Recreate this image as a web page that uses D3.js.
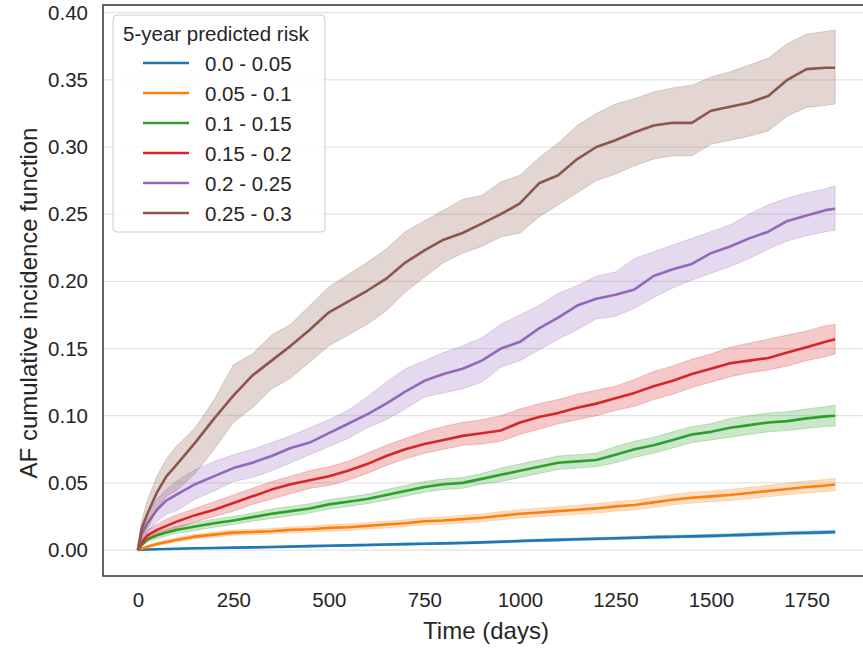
<!DOCTYPE html>
<html>
<head>
<meta charset="utf-8">
<script src="https://cdn.jsdelivr.net/npm/d3@7"></script>
<style>
  body { margin: 0; background: #fff; }
  svg { font-family: "Liberation Sans", Arial, sans-serif; }
</style>
</head>
<body>
<div id="chart"></div>
<script>
const days = [0, 10, 25, 50, 75, 100, 150, 200, 250, 300, 350, 400, 450, 500, 550, 600, 650, 700, 750, 800,
  850, 900, 950, 1000, 1050, 1100, 1150, 1200, 1250, 1300, 1350, 1400, 1450, 1500, 1550, 1600, 1650, 1700, 1750, 1800, 1825];

const groups = ["0.0 - 0.05", "0.05 - 0.1", "0.1 - 0.15", "0.15 - 0.2", "0.2 - 0.25", "0.25 - 0.3"];
const colors = ["#1f77b4", "#ff7f0e", "#2ca02c", "#d62728", "#9467bd", "#8c564b"];

const cif1 = [0,.0002,.0004,.0006,.0008,.001,.0013,.0015,.0018,.002, .0023,.0026,.0029,.0032,.0035,.0038,.0041,.0044,.0047,.005,
  .0053,.0057,.0062,.0067,.0072,.0076,.008,.0084,.0088,.0092, .0096,.0099,.0102,.0106,.011,.0115,.012,.0125,.0129,.0132,.0134];
const lo1 = [0,.0001,.0002,.0004,.0005,.0007,.0009,.0011,.0013,.0015, .0017,.002,.0022,.0025,.0028,.003,.0033,.0036,.0039,.0042,
  .0045,.0048,.0053,.0058,.0062,.0066,.007,.0074,.0078,.0082, .0085,.0088,.0091,.0095,.0098,.0103,.0108,.0113,.0116,.0119,.0121];
const hi1 = [0,.0003,.0006,.0008,.0011,.0013,.0017,.0019,.0023,.0025, .0029,.0032,.0036,.0039,.0042,.0046,.0049,.0052,.0055,.0058,
  .0061,.0066,.0071,.0076,.0082,.0086,.009,.0094,.0098,.0102, .0107,.011,.0113,.0117,.0122,.0127,.0132,.0137,.0142,.0145,.0147];

const cif2 = [0,.001,.0025,.0045,.006,.0075,.01,.0115,.013,.0135, .014,.015,.0155,.0165,.017,.018,.019,.02,.0215,.022,
  .023,.024,.0255,.027,.028,.029,.03,.031,.0325,.0335, .0355,.0375,.039,.04,.041,.0425,.044,.0455,.047,.048,.0488];
const lo2 = [0,.0005,.0015,.0033,.0047,.006,.0083,.0097,.0111,.0115, .012,.0129,.0133,.0142,.0146,.0156,.0165,.0175,.0189,.0193,
  .0202,.0211,.0225,.0239,.0248,.0257,.0266,.0275,.0289,.0298, .0317,.0336,.035,.036,.0369,.0383,.0398,.0412,.0426,.0435,.0442];
const hi2 = [0,.0015,.0035,.0057,.0073,.009,.0117,.0133,.0149,.0155, .016,.0171,.0177,.0188,.0194,.0204,.0215,.0225,.0241,.0247,
  .0258,.0269,.0285,.0301,.0312,.0323,.0334,.0345,.0361,.0372, .0393,.0414,.043,.044,.0451,.0467,.0482,.0498,.0514,.0525,.0534];

const cif3 = [0,.004,.008,.011,.013,.015,.0175,.02,.022,.0245, .027,.029,.031,.034,.036,.038,.041,.044,.047,.049,
  .05,.053,.056,.059,.062,.065,.066,.067,.071,.075, .078,.082,.086,.088,.091,.093,.095,.096,.098,.0995,.1];
const lo3 = [0,.0025,.006,.0085,.0105,.0125,.0145,.017,.019,.0215, .0235,.0255,.0275,.0305,.0325,.0345,.037,.04,.043,.045,
  .046,.049,.051,.054,.057,.06,.061,.062,.065,.069, .072,.076,.08,.082,.084,.086,.088,.089,.0906,.092,.0923];
const hi3 = [0,.0055,.01,.0135,.0155,.0175,.0205,.023,.025,.0275, .0305,.0325,.0345,.0375,.0395,.0415,.045,.048,.051,.053,
  .054,.057,.061,.064,.067,.07,.071,.072,.077,.081, .084,.088,.092,.094,.098,.1,.102,.103,.105,.1068,.1077];

const cif4 = [0,.006,.011,.015,.018,.021,.026,.03,.035,.04, .045,.049,.052,.055,.059,.064,.07,.075,.079,.082,
  .085,.087,.089,.095,.099,.102,.106,.109,.113,.117, .122,.126,.131,.135,.139,.141,.143,.147,.151,.155,.157];
const lo4 = [0,.003,.007,.011,.014,.016,.021,.025,.029,.034, .038,.042,.046,.048,.052,.057,.063,.068,.072,.075,
  .078,.079,.081,.086,.09,.094,.097,.1,.104,.107, .112,.116,.121,.125,.129,.132,.134,.137,.141,.144,.146];
const hi4 = [0,.009,.015,.019,.023,.026,.031,.036,.041,.046, .051,.055,.059,.062,.066,.072,.078,.083,.088,.092,
  .095,.097,.1,.105,.109,.112,.116,.119,.122,.127, .133,.137,.142,.146,.151,.154,.157,.16,.163,.167,.168];

const cif5 = [0,.012,.02,.03,.037,.041,.049,.055,.061,.065, .07,.076,.08,.087,.094,.101,.109,.118,.126,.131,
  .135,.141,.15,.155,.165,.173,.182,.187,.19,.194, .204,.209,.213,.221,.226,.232,.237,.245,.249,.253,.254];
const lo5 = [0,.007,.013,.021,.027,.029,.038,.044,.051,.054, .059,.065,.071,.077,.083,.091,.097,.105,.114,.117,
  .12,.125,.136,.141,.149,.157,.164,.172,.174,.18, .188,.195,.201,.206,.211,.217,.224,.23,.234,.237,.238];
const hi5 = [0,.018,.027,.038,.045,.051,.06,.066,.071,.075, .08,.085,.091,.097,.104,.114,.125,.135,.141,.147,
  .152,.158,.168,.175,.182,.191,.197,.204,.207,.217, .222,.227,.232,.237,.242,.25,.257,.262,.266,.269,.271];

const cif6 = [0,.016,.027,.043,.055,.063,.08,.098,.115,.13, .141,.152,.164,.177,.185,.193,.202,.214,.223,.231,
  .236,.243,.25,.258,.273,.279,.291,.3,.305,.311, .316,.318,.318,.327,.33,.333,.338,.35,.358,.359,.359];
const lo6 = [0,.01,.016,.03,.04,.044,.057,.075,.095,.106, .12,.128,.14,.152,.16,.168,.178,.192,.203,.214,
  .221,.226,.233,.236,.248,.257,.266,.275,.28,.286, .291,.2935,.2935,.302,.305,.308,.312,.323,.3295,.331,.332];
const hi6 = [0,.022,.037,.055,.068,.077,.091,.112,.138,.146, .16,.168,.182,.196,.205,.214,.224,.237,.245,.253,
  .261,.264,.274,.279,.292,.303,.316,.325,.332,.336, .341,.344,.346,.352,.356,.361,.366,.377,.384,.386,.387];

const xTicks = [0, 250, 500, 750, 1000, 1250, 1500, 1750];
const yTicks = [0, 0.05, 0.10, 0.15, 0.20, 0.25, 0.30, 0.35, 0.40];

const series = [
  [cif1, lo1, hi1], [cif2, lo2, hi2], [cif3, lo3, hi3],
  [cif4, lo4, hi4], [cif5, lo5, hi5], [cif6, lo6, hi6]
].map(([m, lo, hi], i) => ({
  name: groups[i],
  color: colors[i],
  values: days.map((d, j) => ({ t: d, v: m[j], lo: lo[j], hi: hi[j] }))
}));

const width = 863, height = 648;
const plotLeft = 103, plotRight = 870, plotTop = 5, plotBottom = 576;
const tickFont = 20.5, labelFont = 24;

const svg = d3.select("#chart").append("svg")
  .attr("width", width)
  .attr("height", height);

const x = d3.scaleLinear().domain([-91.25, 1916.25]).range([plotLeft, plotRight]);
const y = d3.scaleLinear().domain([-0.0193, 0.4057]).range([plotBottom, plotTop]);

// horizontal grid
svg.append("g")
  .selectAll("line")
  .data(yTicks)
  .enter().append("line")
  .attr("x1", plotLeft).attr("x2", plotRight)
  .attr("y1", d => y(d)).attr("y2", d => y(d))
  .attr("stroke", "#e3e3e3")
  .attr("stroke-width", 1.2);

// tick labels via axes, tick lines hidden
const xAxis = svg.append("g")
  .attr("transform", `translate(0,${plotBottom})`)
  .call(d3.axisBottom(x).tickValues(xTicks).tickSize(0).tickPadding(16).tickFormat(d3.format("d")));
const yAxis = svg.append("g")
  .attr("transform", `translate(${plotLeft},0)`)
  .call(d3.axisLeft(y).tickValues(yTicks).tickSize(0).tickPadding(15).tickFormat(d3.format(".2f")));
[xAxis, yAxis].forEach(a => {
  a.select(".domain").remove();
  a.selectAll("text").attr("font-size", tickFont).attr("fill", "#262626").attr("font-family", "Liberation Sans, Arial, sans-serif");
});

const area = d3.area()
  .x(d => x(d.t))
  .y0(d => y(d.lo))
  .y1(d => y(d.hi));
const line = d3.line()
  .x(d => x(d.t))
  .y(d => y(d.v));

series.forEach(s => {
  svg.append("path")
    .datum(s.values)
    .attr("d", area)
    .attr("fill", s.color)
    .attr("fill-opacity", 0.25)
    .attr("stroke", s.color)
    .attr("stroke-opacity", 0.25)
    .attr("stroke-width", 1);
  svg.append("path")
    .datum(s.values)
    .attr("d", line)
    .attr("fill", "none")
    .attr("stroke", s.color)
    .attr("stroke-width", 2.6)
    .attr("stroke-linejoin", "round");
});

// frame
svg.append("rect")
  .attr("x", plotLeft).attr("y", plotTop)
  .attr("width", plotRight - plotLeft).attr("height", plotBottom - plotTop)
  .attr("fill", "none")
  .attr("stroke", "#333")
  .attr("stroke-width", 1.5);

// axis labels
svg.append("text")
  .attr("x", 486)
  .attr("y", 639)
  .attr("text-anchor", "middle")
  .attr("font-size", labelFont)
  .attr("fill", "#262626")
  .text("Time (days)");

svg.append("text")
  .attr("transform", "translate(37,303) rotate(-90)")
  .attr("text-anchor", "middle")
  .attr("font-size", labelFont)
  .attr("fill", "#262626")
  .text("AF cumulative incidence function");

// legend
const lg = svg.append("g");
lg.append("rect")
  .attr("x", 113).attr("y", 15)
  .attr("width", 212).attr("height", 217)
  .attr("rx", 4)
  .attr("fill", "#fff").attr("fill-opacity", 0.8)
  .attr("stroke", "#cccccc");
lg.append("text")
  .attr("x", 123).attr("y", 41)
  .attr("font-size", tickFont)
  .attr("fill", "#262626")
  .text("5-year predicted risk");
const items = lg.selectAll(".item")
  .data(series)
  .enter().append("g")
  .attr("class", "item")
  .attr("transform", (d, i) => `translate(0,${63 + i * 30})`);
items.append("line")
  .attr("x1", 143).attr("x2", 189)
  .attr("stroke", d => d.color)
  .attr("stroke-width", 2.6);
items.append("text")
  .attr("x", 205).attr("y", 7.5)
  .attr("font-size", tickFont)
  .attr("fill", "#262626")
  .text(d => d.name);
</script>
</body>
</html>
